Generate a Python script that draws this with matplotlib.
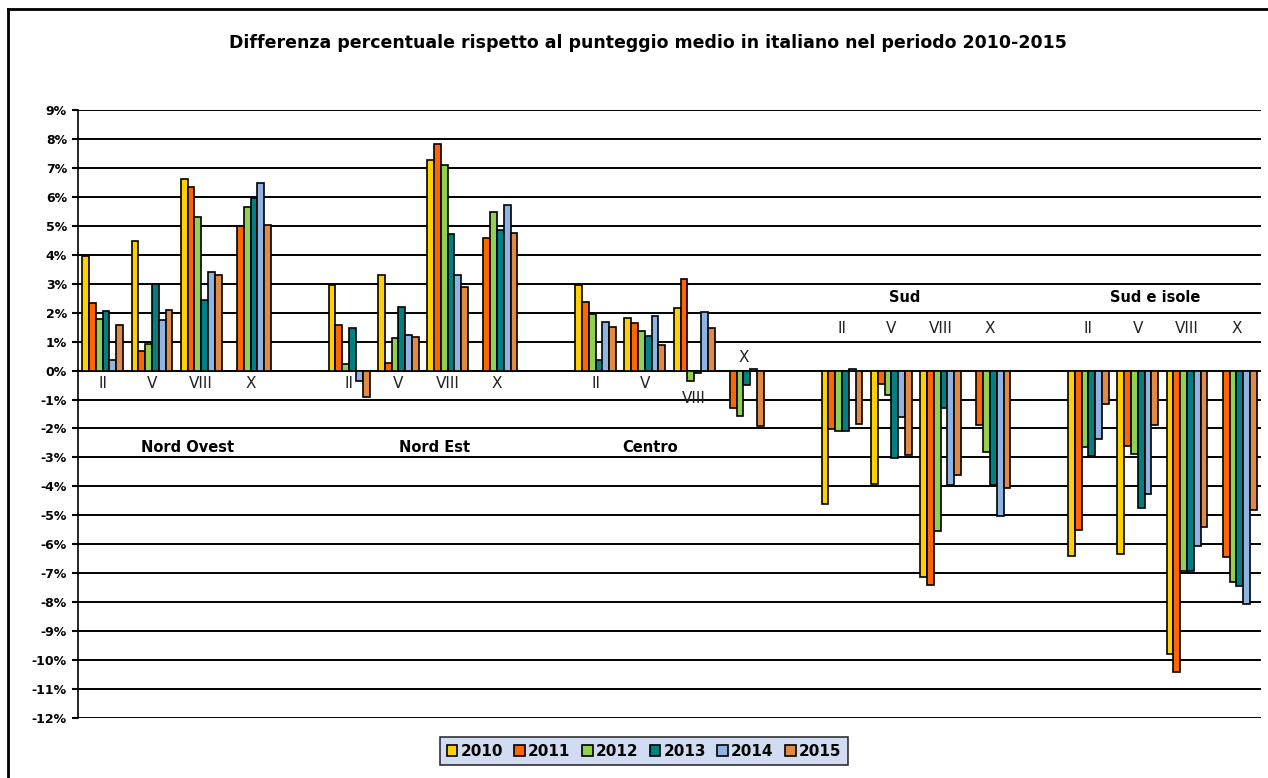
import numpy as np
import matplotlib.pyplot as plt
from matplotlib.lines import Line2D

nan = np.nan

regions = ["Nord Ovest", "Nord Est", "Centro", "Sud", "Sud e isole"]
grades = ["II", "V", "VIII", "X"]
years = ["2010", "2011", "2012", "2013", "2014", "2015"]

# percent difference, region by region, grades II, V, VIII, X
y2010 = [3.95, 4.49, 6.61, nan, 2.96, 3.30, 7.28, nan, 2.97, 1.81, 2.15, nan,
         -4.60, -3.92, -7.12, nan, -6.42, -6.33, -9.79, nan]
y2011 = [2.34, 0.68, 6.33, 5.01, 1.58, 0.27, 7.83, 4.58, 2.36, 1.64, 3.17, -1.30,
         -2.02, -0.46, -7.40, -1.88, -5.50, -2.59, -10.42, -6.45]
y2012 = [1.78, 0.92, 5.32, 5.64, 0.23, 1.12, 7.10, 5.49, 1.96, 1.35, -0.35, -1.58,
         -2.10, -0.86, -5.53, -2.80, -2.65, -2.88, -6.93, -7.31]
y2013 = [2.07, 2.99, 2.44, 5.96, 1.46, 2.19, 4.72, 4.84, 0.37, 1.19, -0.09, -0.50,
         -2.10, -3.03, -1.29, -3.95, -2.94, -4.76, -6.91, -7.43]
y2014 = [0.37, 1.75, 3.42, 6.47, -0.35, 1.23, 3.30, 5.72, 1.69, 1.87, 2.04, 0.05,
         0.05, -1.59, -3.95, -5.01, -2.36, -4.26, -6.05, -8.06]
y2015 = [1.59, 2.10, 3.30, 5.04, -0.93, 1.15, 2.88, 4.76, 1.52, 0.89, 1.47, -1.90,
         -1.84, -2.91, -3.59, -4.06, -1.15, -1.88, -5.39, -4.80]

series = [y2010, y2011, y2012, y2013, y2014, y2015]
colors = ["#FFD000", "#FF6600", "#92D050", "#008080", "#8DB4E2", "#E08A45"]

fig = plt.figure(figsize=(12.68, 7.78), dpi=100)
ax = fig.add_axes([78 / 1268, 1 - 718 / 778, (1261 - 78) / 1268, (718 - 110) / 778])

# one empty slot between regions
slots = []
for r in range(len(regions)):
    for g in range(len(grades)):
        slots.append(r * 5 + g)
slots = np.array(slots)

bw = 0.138
for k, (vals, col) in enumerate(zip(series, colors)):
    xs = slots + 0.5 + (k - 2.5) * bw
    ax.bar(xs, vals, width=bw, color=col, edgecolor="black", linewidth=1.2,
           label=years[k], zorder=3)

ax.set_xlim(0, 24)
ax.set_ylim(-12, 9)
yt = np.arange(-12, 10)
ax.set_yticks(yt)
ax.set_yticklabels([f"{v}%" for v in yt], fontsize=9, fontweight="bold")
ax.tick_params(axis="y", direction="out", length=4, width=1.5, pad=4)
ax.set_xticks([])
for v in yt:
    ax.axhline(v, color="black", lw=1.4, zorder=1)
for s in ["top", "right", "bottom"]:
    ax.spines[s].set_visible(False)
ax.spines["left"].set_linewidth(1.2)

# grade labels next to the bars
lab_y = {0: -0.45, 1: -0.45, 2: -0.45, 3: 1.45, 4: 1.45}
for r in range(len(regions)):
    for g, name in enumerate(grades):
        x = r * 5 + g + 0.5
        y = lab_y[r]
        if r == 2 and g == 2:
            y = -0.97
        if r == 2 and g == 3:
            y = 0.45
        ax.text(x, y, name, ha="center", va="center", fontsize=11, color="#222222",
                zorder=4)

reg_pos = [(2.23, -2.66), (7.24, -2.66), (11.6, -2.66), (16.78, 2.52), (21.85, 2.52)]
for name, (x, y) in zip(regions, reg_pos):
    ax.text(x, y, name, ha="center", va="center", fontsize=10.5,
            fontweight="bold", zorder=4)

fig.text(648 / 1268, 1 - 43 / 778,
         "Differenza percentuale rispetto al punteggio medio in italiano nel periodo 2010-2015",
         ha="center", va="center", fontsize=12.5, fontweight="bold")

leg = fig.legend(loc="center", bbox_to_anchor=(644 / 1268, 1 - 751 / 778), ncol=6,
                 frameon=True, fancybox=False, facecolor="#C6D4EF", edgecolor="black",
                 handlelength=0.7, handleheight=0.7, handletextpad=0.2,
                 columnspacing=0.75, borderpad=0.45,
                 prop={"size": 11, "weight": "bold"})
leg.get_frame().set_linewidth(1.2)

# outer chart border
fig.add_artist(Line2D([8 / 1268, 8 / 1268], [0, 1 - 9 / 778], color="black", lw=2,
                      transform=fig.transFigure))
fig.add_artist(Line2D([8 / 1268, 1], [1 - 9 / 778, 1 - 9 / 778], color="black", lw=2,
                      transform=fig.transFigure))

fig.savefig("out.png", dpi=100)
